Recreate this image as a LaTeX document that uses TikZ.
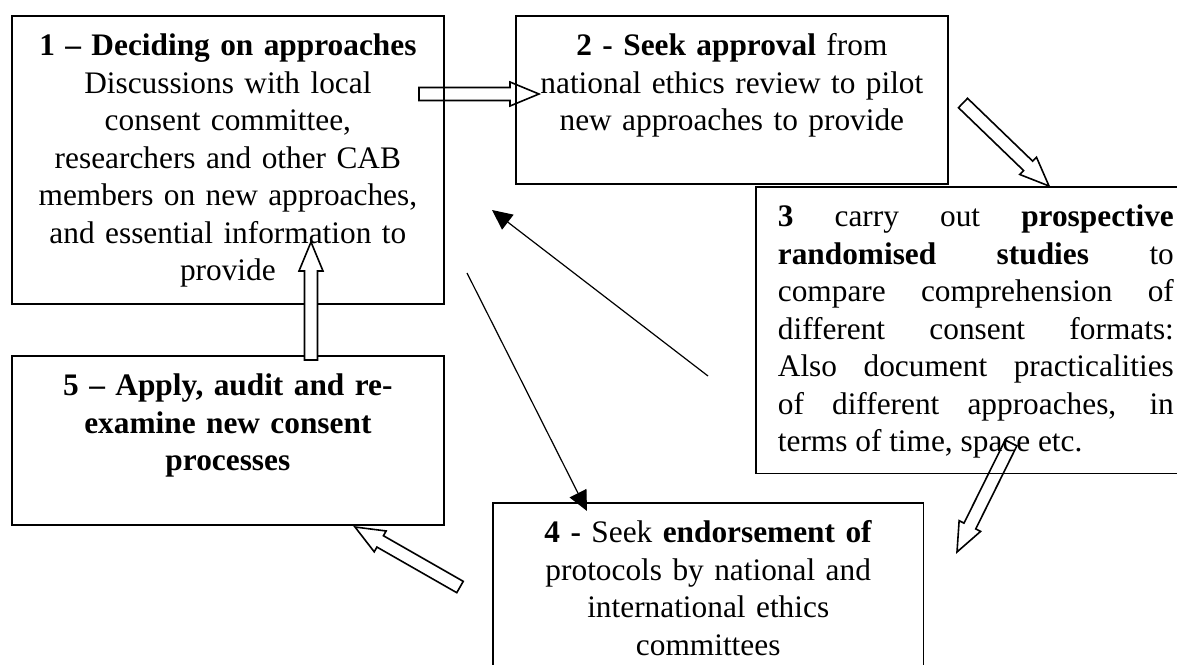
\documentclass[tikz,border=0pt]{standalone}
\usepackage{fontspec}
\setmainfont{Liberation Serif}
\usetikzlibrary{arrows.meta,calc}

\tikzset{
  stepbox/.style={draw, line width=1.3pt, anchor=north west, inner ysep=0pt, inner xsep=12pt,
    text height=30pt, align=center, font=\fontsize{23.5}{28.1}\selectfont},
  hollow/.style={draw, line width=1.2pt, line join=miter},
  link/.style={line width=0.9pt, -{Triangle[length=15pt,width=14pt]}},
}

\newcommand{\blockarrow}[3][]{%
  \coordinate (neck) at ($(#3)!21.75pt!(#2)$);
  \draw[hollow,#1] ($(#2)!4.9pt!90:(#3)$) -- ($(neck)!4.9pt!-90:(#2)$)
    -- ($(neck)!9pt!-90:(#2)$) -- (#3) -- ($(neck)!9pt!90:(#2)$)
    -- ($(neck)!4.9pt!90:(#2)$) -- ($(#2)!4.9pt!-90:(#3)$) -- cycle;
}

\begin{document}
\begin{tikzpicture}[x=0.75pt,y=-0.75pt]
  \path[use as bounding box, fill=white] (0,0) rectangle (1177,664);
  \clip (0,0) rectangle (1177,664);

  \node[stepbox, text width=300pt, text depth=186pt] (s1) at (11,15)
    {\textbf{1 – Deciding on approaches}\\ Discussions with local\\ consent committee,\\
     researchers and other CAB\\ members on new approaches,\\ and essential information to\\ provide};

  \node[stepbox, text width=300pt, text depth=96pt] (s2) at (515,15)
    {\textbf{2 - Seek approval} from\\ national ethics review to pilot\\ new approaches to provide};

  \node[stepbox, inner xsep=16.5pt, text width=297pt, text depth=185pt, align=justify] (s3) at (755,186)
    {\tolerance=10000 \textbf{3} carry out \textbf{prospective}\linebreak
     \textbf{randomised studies} to\linebreak compare comprehension of\linebreak
     different consent formats:\linebreak Also document practicalities\linebreak
     of different approaches, in\linebreak terms of time, space etc.};

  \node[stepbox, text width=299pt, text depth=104pt] (s4) at (492,502)
    {\textbf{4 -} Seek \textbf{endorsement of}\\ protocols by national and\\ international ethics\\ committees};

  \node[stepbox, text width=300pt, text depth=97pt] (s5) at (11,355)
    {\textbf{5 – Apply, audit and re-\\ examine new consent\\ processes}};

  \coordinate (a1) at (419,94);
  \coordinate (a2) at (539,94);
  \coordinate (b2) at (963,103);
  \coordinate (b3) at (1049,186);
  \coordinate (c3) at (1011,443);
  \coordinate (c4) at (957,552);
  \coordinate (d4) at (460,587);
  \coordinate (d5) at (355,527);
  \coordinate (e5) at (311,360);
  \coordinate (e1) at (311,242);

  \blockarrow{a1}{a2}
  \blockarrow[fill=white]{b2}{b3}
  \blockarrow{c3}{c4}
  \blockarrow[fill=white]{d4}{d5}
  \blockarrow[fill=white]{e5}{e1}

  \coordinate (f3) at (708,376);
  \coordinate (f1) at (492,210);
  \coordinate (g1) at (467,273);
  \coordinate (g4) at (587,511);

  \draw[link] (f3) -- (f1);
  \draw[link] (g1) -- (g4);
\end{tikzpicture}
\end{document}
